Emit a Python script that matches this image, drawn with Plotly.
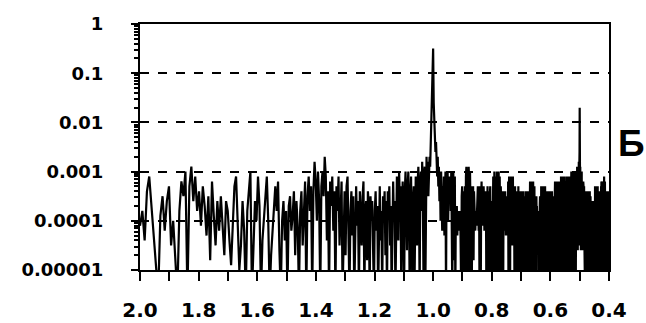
import numpy as np
import plotly.graph_objects as go

# Spectral power on a uniform frequency grid (cycles per unit), stored as
# log10(power) in tenths of a decade, twenty samples per row.
freq_start = 0.5
freq_step = 0.002
log_power_tenths = [
    -41, -38, -44, -34, -31, -37, -43, -48, -55, -39, -35, -42, -36, -33, -45, -40, -48, -55, -38, -32,  # 0
    -35, -30, -55, -33, -29, -36, -31, -38, -34, -41, -33, -37, -43, -35, -48, -32, -39, -45, -36, -42,  # 20
    -35, -40, -47, -36, -38, -44, -49, -41, -33, -31, -39, -50, -45, -36, -42, -55, -38, -33, -30, -55,  # 40
    -43, -36, -40, -31, -37, -55, -44, -39, -34, -31, -40, -55, -47, -42, -36, -33, -38, -32, -46, -55,  # 60
    -40, -36, -44, -38, -55, -37, -35, -42, -39, -34, -47, -36, -41, -55, -38, -34, -45, -37, -32, -55,  # 80
    -35, -31, -38, -33, -55, -34, -28, -32, -40, -30, -36, -55, -33, -30, -35, -27, -31, -44, -34, -55,  # 100
    -32, -37, -31, -42, -34, -55, -33, -38, -31, -45, -36, -32, -55, -39, -34, -47, -33, -31, -40, -55,  # 120
    -38, -34, -43, -35, -55, -37, -33, -41, -36, -55, -34, -39, -45, -35, -32, -55, -38, -36, -48, -34,  # 140
    -37, -55, -35, -40, -36, -46, -55, -38, -34, -42, -37, -55, -36, -33, -44, -38, -55, -35, -39, -34,  # 160
    -47, -36, -55, -34, -38, -33, -45, -37, -55, -35, -32, -40, -36, -55, -34, -31, -38, -44, -30, -36,  # 180
    -33, -55, -37, -32, -41, -55, -34, -30, -36, -46, -33, -30, -38, -55, -35, -31, -42, -55, -36, -33,  # 200
    -55, -37, -31, -34, -45, -32, -29, -36, -55, -33, -30, -38, -28, -35, -50, -31, -29, -55, -30, -27,  # 220
    -33, -28, -35, -30, -27, -29, -24, -22, -18, -14, -5, -16, -20, -23, -26, -24, -28, -31, -27, -33,   # 240
    -29, -36, -31, -40, -30, -34, -42, -33, -37, -31, -43, -35, -30, -55, -31, -36, -30, -40, -34, -31,  # 260
    -35, -31, -38, -30, -42, -55, -33, -30, -48, -36, -31, -55, -38, -41, -37, -43, -39, -42, -38, -40,  # 280
    -41, -38, -43, -55, -35, -33, -47, -36, -55, -34, -37, -33, -50, -31, -29, -36, -55, -30, -34, -29,  # 300
    -32, -55, -30, -37, -46, -33, -55, -34, -36, -33, -48, -34, -38, -40, -42, -39, -38, -41, -36, -34,  # 320
    -33, -37, -42, -35, -55, -33, -38, -55, -36, -32, -40, -34, -38, -41, -33, -36, -42, -35, -39, -34,  # 340
    -37, -55, -34, -40, -33, -55, -36, -47, -34, -55, -35, -33, -44, -55, -36, -39, -55, -41, -39, -31,  # 360
    -36, -55, -30, -38, -33, -55, -31, -45, -35, -30, -55, -37, -32, -46, -30, -55, -34, -31, -40, -55,  # 380
    -33, -36, -55, -34, -38, -45, -35, -55, -37, -34, -40, -36, -42, -34, -38, -43, -35, -39, -41, -36,  # 400
    -39, -43, -32, -55, -35, -31, -46, -37, -55, -33, -31, -44, -36, -40, -33, -45, -38, -31, -42, -36,  # 420
    -43, -34, -55, -36, -33, -48, -37, -55, -35, -39, -34, -55, -37, -35, -46, -33, -55, -38, -36, -55,  # 440
    -35, -40, -34, -55, -37, -36, -55, -34, -45, -38, -55, -36, -34, -48, -37, -55, -35, -39, -55, -36,  # 460
    -38, -34, -55, -37, -44, -35, -55, -36, -39, -34, -55, -37, -36, -47, -35, -55, -38, -32, -41, -55,  # 480
    -34, -32, -46, -36, -55, -33, -38, -35, -55, -32, -37, -44, -34, -55, -33, -36, -55, -38, -35, -47,  # 500
    -36, -55, -35, -40, -37, -39, -42, -38, -44, -40, -38, -55, -39, -41, -38, -55, -37, -35, -48, -36,  # 520
    -55, -34, -33, -45, -37, -55, -35, -33, -42, -55, -36, -34, -38, -55, -33, -46, -37, -55, -35, -33,  # 540
    -40, -55, -36, -34, -47, -38, -55, -35, -37, -55, -34, -39, -44, -36, -55, -35, -38, -55, -34, -37,  # 560
    -46, -55, -36, -34, -39, -55, -37, -35, -48, -36, -55, -34, -38, -36, -55, -35, -39, -42, -36, -44,  # 580
    -38, -41, -35, -55, -37, -36, -32, -46, -55, -34, -37, -33, -55, -39, -32, -45, -55, -35, -33, -38,  # 600
    -55, -34, -32, -47, -36, -55, -33, -38, -55, -35, -32, -44, -37, -55, -34, -36, -55, -31, -38, -45,  # 620
    -55, -33, -36, -31, -55, -38, -34, -46, -55, -32, -37, -35, -55, -31, -39, -44, -55, -33, -36, -55,  # 640
    -34, -40, -32, -43, -36, -38, -31, -55, -35, -37, -55, -33, -31, -46, -55, -36, -34, -55, -32, -38,  # 660
    -47, -55, -33, -31, -38, -55, -35, -32, -41, -37, -34, -43, -36, -31, -39, -55, -30, -36, -55, -33,  # 680
    -31, -47, -55, -34, -30, -38, -55, -33, -36, -55, -31, -44, -35, -55, -30, -37, -55, -34, -31, -46,  # 700
    -55, -33, -30, -38, -55, -35, -31, -44, -34, -30, -37, -45, -32, -29, -36, -43, -31, -46, -33, -29,  # 720
    -38, -30, -44, -33, -28, -35, -45, -30, -28, -26, -17, -27, -30, -36, -29, -44, -32, -30, -46, -34,  # 740
    -31, -37, -45, -33, -30, -40, -46, -34, -32, -38, -44, -35, -33, -46, -37, -32, -41, -36, -45, -34,  # 760
    -38, -33, -43, -36, -46, -35, -39, -44, -55, -34, -37, -55, -35, -40, -55, -36, -34, -47, -55, -37,  # 780
    -35, -55, -38, -34, -45, -55, -36, -39, -55, -34, -37, -46, -55, -35, -38, -55, -36, -34, -43, -55,  # 800
    -37, -35, -55, -39, -34, -48, -55, -36, -38, -55, -35, -41, -55, -37, -40, -55, -39, -42, -55, -38,  # 820
    -44, -55, -39, -38, -55, -41, -36, -55, -40, -38, -55, -42, -39, -55, -37, -45, -55, -38, -40, -55,  # 840
    -39, -36, -55, -41, -38, -55, -40, -33, -46, -55, -35, -37, -55, -33, -44, -55, -36, -34, -55, -38,  # 860
    -33, -47, -55, -35, -37, -55, -34, -42, -55, -36, -33, -55, -39, -35, -55, -37, -34, -46, -55, -36,  # 880
    -38, -55, -34, -41, -55, -36, -35, -55, -39, -34, -48, -55, -37, -35, -41, -36, -43, -34, -38, -55,  # 900
    -36, -33, -55, -38, -32, -47, -55, -35, -37, -55, -33, -40, -55, -36, -32, -45, -55, -34, -38, -55,  # 920
    -33, -37, -55, -35, -32, -46, -55, -36, -34, -55, -31, -39, -55, -35, -33, -44, -55, -37, -32, -55,  # 940
    -36, -34, -55, -38, -33, -47, -55, -35, -37, -55, -36, -34, -45, -55, -38, -35, -55, -37, -42, -55,  # 960
    -35, -38, -55, -36, -34, -46, -55, -37, -35, -55, -39, -34, -55, -36, -43, -55, -35, -38, -55, -36,  # 980
    -37,                                                                                                  # 1000
]

x_tick_values = [2.0, 1.8, 1.6, 1.4, 1.2, 1.0, 0.8, 0.6, 0.4]
x_tick_labels = ["2.0", "1.8", "1.6", "1.4", "1.2", "1.0", "0.8", "0.6", "0.4"]
y_tick_values = [1, 0.1, 0.01, 0.001, 0.0001, 0.00001]
y_tick_labels = ["1", "0.1", "0.01", "0.001", "0.0001", "0.00001"]
panel_label = "Б"

freq = freq_start + freq_step * np.arange(len(log_power_tenths))
period = 1.0 / freq
power = 10.0 ** (np.array(log_power_tenths) / 10.0)

# minor log ticks at 2..9 within each decade
y_minor = [m * 10.0 ** d for d in range(-5, 0) for m in range(2, 10)]

fig = go.Figure()
fig.add_trace(go.Scatter(
    x=period, y=power, mode="lines",
    line=dict(color="black", width=2.2),
    hoverinfo="skip", showlegend=False,
))

fig.update_layout(
    width=646, height=323,
    margin=dict(l=140, r=37, t=24, b=53),
    paper_bgcolor="white", plot_bgcolor="white",
    showlegend=False,
    annotations=[dict(
        text=panel_label, xref="paper", yref="paper",
        x=1.049, y=0.514, xanchor="center", yanchor="middle",
        showarrow=False,
        font=dict(family="Liberation Sans", size=37, color="black", weight="bold"),
    )],
)

fig.update_xaxes(
    range=[2.0, 0.4], automargin=False,
    tickmode="array", tickvals=x_tick_values, ticktext=x_tick_labels,
    ticks="outside", ticklen=9, tickwidth=2, tickcolor="black",
    minor=dict(dtick=0.1, tick0=0.4, ticks="outside", ticklen=9, tickwidth=2,
               tickcolor="black", showgrid=False),
    showline=True, linecolor="black", linewidth=2, mirror=True,
    showgrid=False, zeroline=False,
    tickfont=dict(family="DejaVu Sans", size=20, color="black", weight="bold"),
    ticklabelstandoff=12,
)

fig.update_yaxes(
    type="log", range=[-5, 0], automargin=False,
    tickmode="array", tickvals=y_tick_values, ticktext=y_tick_labels,
    ticks="outside", ticklen=7, tickwidth=2, tickcolor="black",
    minor=dict(tickmode="array", tickvals=y_minor, ticks="outside", ticklen=4,
               tickwidth=1.5, tickcolor="black", showgrid=False),
    showline=True, linecolor="black", linewidth=2, mirror=True,
    showgrid=True, gridcolor="black", gridwidth=1.5, griddash="dash",
    zeroline=False,
    tickfont=dict(family="DejaVu Sans", size=18, color="black", weight="bold"),
    ticklabelstandoff=24,
)

fig.write_html("out.html")
